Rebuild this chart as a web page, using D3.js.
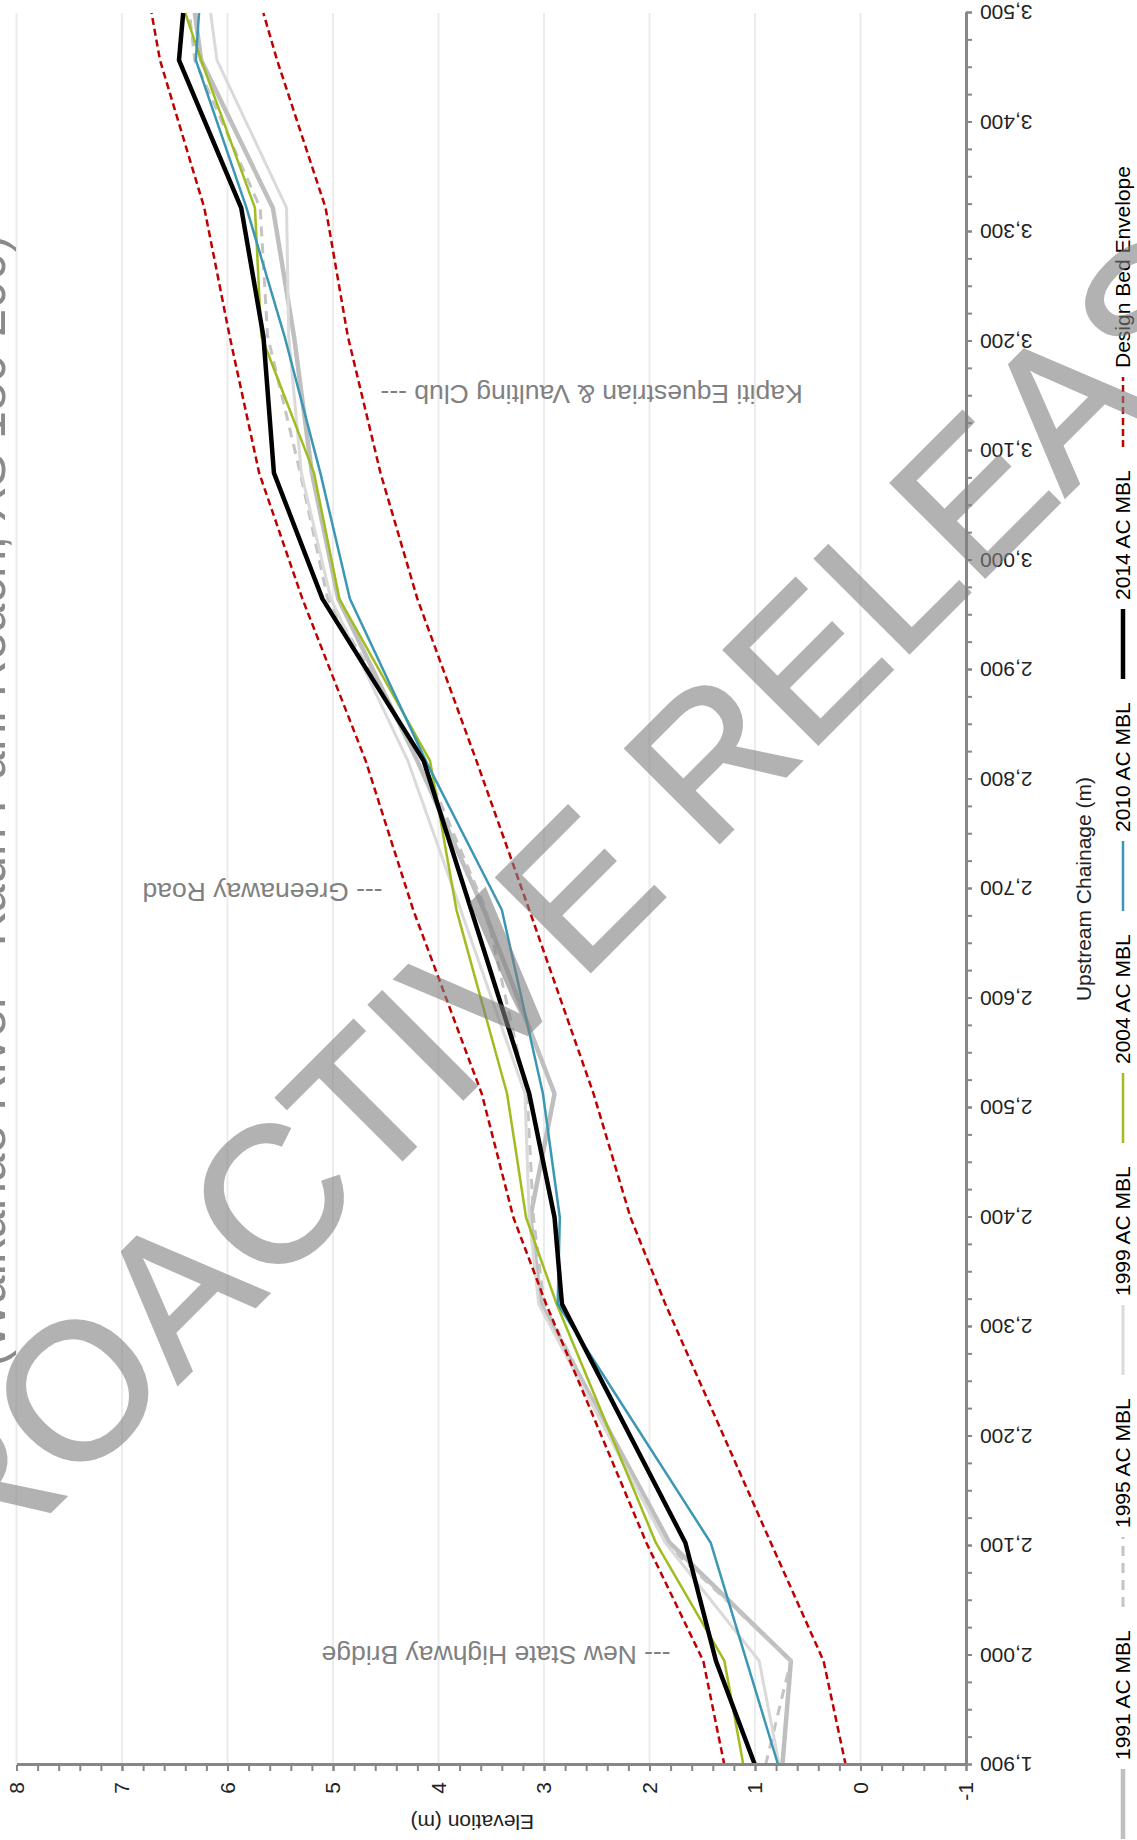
<!DOCTYPE html>
<html>
<head>
<meta charset="utf-8">
<script src="https://cdn.jsdelivr.net/npm/d3@7"></script>
<style>
  body { margin: 0; background: #fff; }
  svg { display: block; }
  text { font-family: "Liberation Sans", Arial, sans-serif; }
</style>
</head>
<body>
<div id="chart"></div>
<script>
// surveyed cross sections, upstream chainage (m)
const chainage = [1900, 1995, 2103, 2321, 2400, 2513, 2681, 2817, 2965, 3080, 3205, 3322, 3457, 3500];

// mean bed level (m) of each survey at those cross sections
const mbl1991 = [0.74, 0.66, 1.81, 3.03, 3.13, 2.90, 3.57, 4.20, 4.95, 5.20, 5.37, 5.57, 6.25, 6.31];
const mbl1995 = [0.90, 0.66, 1.85, 3.00, 3.10, 3.16, 3.55, 4.15, 5.05, 5.31, 5.62, 5.69, 6.31, 6.36];
const mbl1999 = [0.77, 0.96, 1.85, 3.05, 3.14, 3.18, 3.79, 4.29, 5.02, 5.30, 5.42, 5.44, 6.10, 6.16];
const mbl2004 = [1.11, 1.29, 1.94, 2.88, 3.17, 3.35, 3.83, 4.08, 4.94, 5.18, 5.68, 5.74, 6.25, 6.40];
const mbl2010 = [0.78, 1.08, 1.42, 2.87, 2.85, 3.01, 3.40, 4.12, 4.84, 5.12, 5.46, 5.82, 6.30, 6.27];
const mbl2014 = [1.00, 1.37, 1.66, 2.83, 2.90, 3.14, 3.69, 4.14, 5.10, 5.56, 5.66, 5.87, 6.46, 6.42];

// design bed envelope, upper and lower limit (m)
const envelopeUpper = [1.29, 1.49, 2.03, 2.98, 3.29, 3.59, 4.24, 4.69, 5.29, 5.70, 5.98, 6.22, 6.64, 6.72];
const envelopeLower = [0.14, 0.35, 0.85, 1.85, 2.18, 2.53, 3.14, 3.64, 4.20, 4.55, 4.86, 5.07, 5.53, 5.66];

// axis ticks
const chainageTicks = [1900, 2000, 2100, 2200, 2300, 2400, 2500, 2600, 2700, 2800, 2900, 3000, 3100, 3200, 3300, 3400, 3500];
const elevationTicks = [-1, 0, 1, 2, 3, 4, 5, 6, 7, 8];

const legendLabels = ['1991 AC MBL', '1995 AC MBL', '1999 AC MBL', '2004 AC MBL', '2010 AC MBL', '2014 AC MBL', 'Design Bed Envelope'];

// landmarks written along the reach
const noteText = ['--- New State Highway Bridge', '--- Greenaway Road', 'Kapiti Equestrian & Vaulting Club ---'];
const noteChainage = [2000, 2697, 3152];
const noteElevation = [1.80, 4.53, 4.55];

const subtitle = '(Waikanae River - Kauri Pahi Reach, XS 180-200)';
const watermark = 'PROACTIVE RELEASE';

// page size
let page = { 'width': 1137, 'height': 1840 };

let svg = d3.select('#chart')
    .append('svg')
    .attr('width', page.width)
    .attr('height', page.height);

// the chart is laid out landscape (1840 wide) and then turned
// a quarter turn anticlockwise onto the portrait page
let chart = svg.append('g')
    .attr('transform', `translate(0, ${page.height}) rotate(-90)`);

let scaleX = d3.scaleLinear()
    .domain([1900, 3500])
    .range([75, 1827]);

let scaleY = d3.scaleLinear()
    .domain([-1, 8])
    .range([966, 16.5]);

// horizontal gridlines
chart.append('g')
    .selectAll('line')
    .data(elevationTicks.filter(d => d > -1))
    .join('line')
    .attr('x1', scaleX.range()[0])
    .attr('x2', scaleX.range()[1])
    .attr('y1', d => scaleY(d))
    .attr('y2', d => scaleY(d))
    .attr('stroke', '#ececec')
    .attr('stroke-width', 2);

// series styles, in legend order
let styles = [
    { data: mbl1991, stroke: '#bfbfbf', width: 4.5, dash: null },
    { data: mbl1995, stroke: '#c4c4c4', width: 3, dash: '10,7' },
    { data: mbl1999, stroke: '#dadada', width: 3, dash: null },
    { data: mbl2004, stroke: '#9fbd1f', width: 2.5, dash: null },
    { data: mbl2010, stroke: '#3b97b3', width: 2.5, dash: null },
    { data: mbl2014, stroke: '#000000', width: 4.5, dash: null },
    { data: envelopeUpper, stroke: '#c00000', width: 2.5, dash: '7,4' }
];

let line = d3.line()
    .x((d, i) => scaleX(chainage[i]))
    .y(d => scaleY(d));

let plot = chart.append('g');
styles.forEach(s => {
    plot.append('path')
        .attr('d', line(s.data))
        .attr('fill', 'none')
        .attr('stroke', s.stroke)
        .attr('stroke-width', s.width)
        .attr('stroke-dasharray', s.dash)
        .attr('stroke-linejoin', 'round');
});
// second envelope line uses the same style as the first
plot.append('path')
    .attr('d', line(envelopeLower))
    .attr('fill', 'none')
    .attr('stroke', '#c00000')
    .attr('stroke-width', 2.5)
    .attr('stroke-dasharray', '7,4');

// landmark notes, written along the elevation direction
chart.append('g')
    .selectAll('text')
    .data(noteText)
    .join('text')
    .attr('transform', (d, i) => `translate(${scaleX(noteChainage[i])}, ${scaleY(noteElevation[i])}) rotate(-90)`)
    .attr('text-anchor', d => d.endsWith('---') ? 'end' : 'start')
    .attr('dy', '0.35em')
    .attr('font-size', 26.5)
    .attr('fill', '#808080')
    .text(d => d);

// chainage axis, minor ticks every 25 m
let axisX = chart.append('g')
    .attr('transform', `translate(0, ${scaleY.range()[0]})`);
axisX.call(d3.axisBottom(scaleX)
    .tickValues(d3.range(1900, 3501, 25))
    .tickFormat('')
    .tickSize(6)
    .tickSizeOuter(0));
axisX.append('g').call(d3.axisBottom(scaleX)
    .tickValues(chainageTicks)
    .tickFormat(d3.format(','))
    .tickSize(6)
    .tickSizeOuter(0));
axisX.selectAll('text')
    .attr('transform', 'rotate(-90)')
    .attr('text-anchor', 'end')
    .attr('x', -14)
    .attr('y', 0)
    .attr('dy', '0.35em');

// elevation axis, minor ticks every 0.2 m
let axisY = chart.append('g')
    .attr('transform', `translate(${scaleX.range()[0]}, 0)`);
axisY.call(d3.axisLeft(scaleY)
    .tickValues(d3.range(-1, 8.001, 0.2))
    .tickFormat('')
    .tickSize(6)
    .tickSizeOuter(0));
axisY.append('g').call(d3.axisLeft(scaleY)
    .tickValues(elevationTicks)
    .tickFormat(d => String(d))
    .tickSize(6)
    .tickPadding(11)
    .tickSizeOuter(0));

// style both axes
[axisX, axisY].forEach(axis => {
    axis.selectAll('.domain')
        .attr('stroke', '#878787')
        .attr('stroke-width', 3);
    axis.selectAll('line')
        .attr('stroke', '#878787')
        .attr('stroke-width', 2);
    axis.selectAll('text')
        .attr('font-size', 21)
        .attr('font-family', '"Liberation Sans", Arial, sans-serif')
        .attr('fill', '#222');
});

// axis titles
chart.append('text')
    .attr('transform', `translate(18, ${(scaleY.range()[0] + scaleY.range()[1]) / 2 - 19}) rotate(-90)`)
    .attr('text-anchor', 'middle')
    .attr('dy', '0.35em')
    .attr('font-size', 21)
    .attr('fill', '#222')
    .text('Elevation (m)');

chart.append('text')
    .attr('x', (scaleX.range()[0] + scaleX.range()[1]) / 2)
    .attr('y', 1091)
    .attr('text-anchor', 'middle')
    .attr('font-size', 21)
    .attr('fill', '#222')
    .text('Upstream Chainage (m)');

// subtitle, mostly cut off by the page edge
chart.append('text')
    .attr('x', 473)
    .attr('y', 5)
    .attr('font-size', 51)
    .attr('fill', '#8a8a8a')
    .text(subtitle);

// legend along the bottom of the chart
let legend = chart.append('g')
    .attr('transform', 'translate(1, 1123)');
let items = legend.selectAll('g')
    .data(legendLabels)
    .join('g')
    .attr('transform', (d, i) => `translate(${i * 232}, 0)`);
items.append('line')
    .attr('x1', 0)
    .attr('x2', 70)
    .attr('stroke', (d, i) => styles[i].stroke)
    .attr('stroke-width', (d, i) => styles[i].width)
    .attr('stroke-dasharray', (d, i) => styles[i].dash);
items.append('text')
    .attr('x', 79)
    .attr('dy', '0.35em')
    .attr('font-size', 21)
    .attr('fill', '#000')
    .text(d => d);

// release watermark across the page
svg.append('text')
    .attr('transform', 'translate(-118, 1680) rotate(-45)')
    .attr('font-size', 193)
    .attr('fill', '#808080')
    .attr('stroke', '#808080')
    .attr('stroke-width', 3)
    .attr('opacity', 0.6)
    .text(watermark);
</script>
</body>
</html>
